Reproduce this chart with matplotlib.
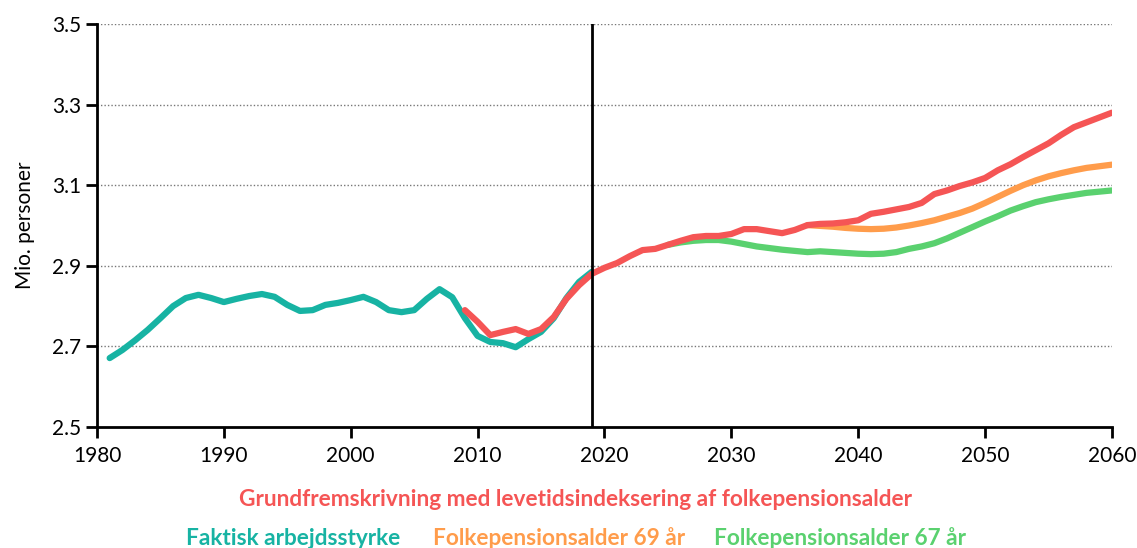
import matplotlib.pyplot as plt
import numpy as np

# faktisk arbejdsstyrke 1981-2019
years_hist = list(range(1981, 2020))
faktisk = [2.671, 2.691, 2.715, 2.741, 2.770, 2.800, 2.820, 2.828, 2.820, 2.810,
           2.818, 2.825, 2.830, 2.823, 2.803, 2.788, 2.790, 2.803, 2.808, 2.815,
           2.823, 2.810, 2.790, 2.785, 2.790, 2.818, 2.842, 2.822, 2.770, 2.726,
           2.711, 2.708, 2.698, 2.718, 2.736, 2.770, 2.820, 2.860, 2.885]

# grundfremskrivning 2009-2060
years_grund = list(range(2009, 2061))
grund = [2.790, 2.761, 2.728, 2.736, 2.743, 2.731, 2.743, 2.773, 2.818, 2.852,
         2.880, 2.895, 2.907, 2.924, 2.939, 2.942, 2.952, 2.962, 2.971, 2.974,
         2.974, 2.979, 2.991, 2.991, 2.986, 2.981, 2.989, 3.001, 3.004, 3.005,
         3.008, 3.013, 3.029, 3.034, 3.040, 3.046, 3.056, 3.078, 3.087, 3.098,
         3.107, 3.118, 3.137, 3.152, 3.170, 3.187, 3.204, 3.225, 3.244, 3.256,
         3.268, 3.280]

# folkepensionsalder 69 aar 2036-2060
years_69 = list(range(2036, 2061))
fp69 = [3.001, 2.999, 2.997, 2.994, 2.992, 2.991, 2.992, 2.995, 3.000, 3.006,
        3.013, 3.022, 3.031, 3.042, 3.056, 3.071, 3.086, 3.100, 3.112, 3.122,
        3.130, 3.137, 3.143, 3.147, 3.151]

# folkepensionsalder 67 aar 2025-2060
years_67 = list(range(2025, 2061))
fp67 = [2.952, 2.958, 2.962, 2.964, 2.964, 2.960, 2.954, 2.948, 2.944, 2.940,
        2.937, 2.934, 2.936, 2.934, 2.932, 2.930, 2.929, 2.930, 2.934, 2.942,
        2.948, 2.956, 2.968, 2.982, 2.996, 3.010, 3.023, 3.037, 3.048, 3.058,
        3.065, 3.071, 3.076, 3.081, 3.084, 3.087]

col_teal = '#17b3a3'
col_red = '#f55555'
col_orange = '#ff9c4b'
col_green = '#5ad16f'

plt.rcParams['font.family'] = ['Lato', 'DejaVu Sans']

fig = plt.figure(figsize=(11.37, 5.48), dpi=100)
ax = fig.add_axes([0.0853, 0.2208, 0.8927, 0.7354])

lw = 4.5
ax.plot(years_hist, faktisk, color=col_teal, lw=lw, solid_capstyle='round', zorder=3)
ax.plot(years_67, fp67, color=col_green, lw=lw, solid_capstyle='round', zorder=3)
ax.plot(years_69, fp69, color=col_orange, lw=lw, solid_capstyle='round', zorder=4)
ax.plot(years_grund, grund, color=col_red, lw=lw, solid_capstyle='round', zorder=5)

ax.axvline(2019, color='black', lw=2, zorder=6)

ax.set_xlim(1980, 2060)
ax.set_ylim(2.5, 3.5)
ax.set_xticks(range(1980, 2061, 10))
ax.set_yticks([2.5, 2.7, 2.9, 3.1, 3.3, 3.5])
ax.set_yticklabels(['2.5', '2.7', '2.9', '3.1', '3.3', '3.5'])
for y in [2.7, 2.9, 3.1, 3.3, 3.5]:
    ax.axhline(y, color='#777777', lw=1, ls=(0, (1, 1.5)), zorder=1)

for s in ['top', 'right']:
    ax.spines[s].set_visible(False)
for s in ['left', 'bottom']:
    ax.spines[s].set_linewidth(2)
ax.tick_params(axis='both', width=2, length=8, labelsize=15, direction='out')
ax.tick_params(axis='x', pad=6)
ax.set_ylabel('Mio. personer', fontsize=15, labelpad=12)

fig.text(0.506, 0.088, 'Grundfremskrivning med levetidsindeksering af folkepensionsalder',
         color=col_red, fontsize=16.3, fontweight='bold', ha='center', va='center')
fig.text(0.164, 0.018, 'Faktisk arbejdsstyrke', color=col_teal, fontsize=16.3,
         fontweight='bold', ha='left', va='center')
fig.text(0.381, 0.018, 'Folkepensionsalder 69 år', color=col_orange, fontsize=16.3,
         fontweight='bold', ha='left', va='center')
fig.text(0.628, 0.018, 'Folkepensionsalder 67 år', color=col_green, fontsize=16.3,
         fontweight='bold', ha='left', va='center')

fig.savefig('out.png', dpi=100)
